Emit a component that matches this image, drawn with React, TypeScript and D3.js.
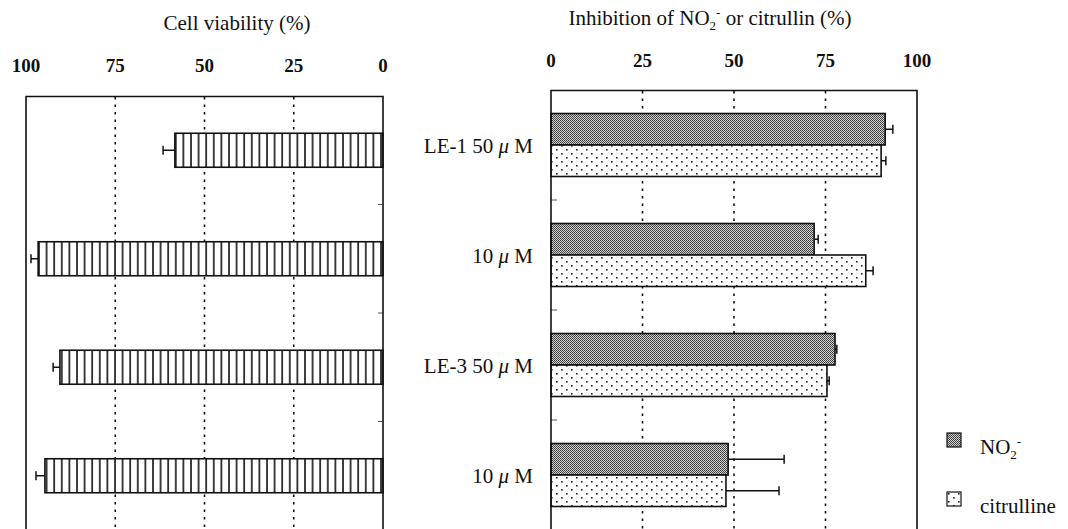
import React from 'react'
import * as d3 from 'd3'

const W = 1068
const H = 529
const FONT = 'Liberation Serif, serif'

// left panel: cell viability
const cellCats = ['LE-1 50', 'LE-1 10', 'LE-3 50', 'LE-3 10']
const cellValues = [58.3, 96.6, 90.5, 94.7]
const cellErrors = [3.3, 2.0, 1.9, 2.5]

// right panel: inhibition
const groupPrefix = ['LE-1 50 ', '10 ', 'LE-3 50 ', '10 ']
const seriesNames = ['no2', 'citrulline']
const no2Values = [91.3, 71.9, 77.6, 48.4]
const no2Errors = [2.1, 1.1, 0.5, 15.3]
const citValues = [90.2, 86.0, 75.4, 47.8]
const citErrors = [1.3, 2.0, 0.6, 14.5]

const ticks = [0, 25, 50, 75, 100]

const ErrorBar = ({ x0, x1, y }: { x0: number; x1: number; y: number }) => (
    <g stroke="#111" strokeWidth={1.5}>
        <line x1={x0} x2={x1} y1={y} y2={y} />
        <line x1={x1} x2={x1} y1={y - 4.5} y2={y + 4.5} />
    </g>
)

const App = () => {
    // left scales
    const lx = d3.scaleLinear().domain([100, 0]).range([26, 383])
    const ly = d3.scaleBand().domain(cellCats).range([96, 530])
    const lBarH = 34

    // right scales
    const rx = d3.scaleLinear().domain([0, 100]).range([551, 917])
    const ry = d3.scaleBand().domain(d3.range(4).map(String)).range([90, 530])
    const sub = d3.scaleBand().domain(seriesNames).range([0, 63])
    const rOff = (ry.bandwidth() - 63) / 2

    const series = [
        { name: 'no2', values: no2Values, errors: no2Errors, fill: 'url(#dense)' },
        { name: 'citrulline', values: citValues, errors: citErrors, fill: 'url(#dots)' },
    ]

    return (
        <svg width={W} height={H} style={{ position: 'absolute', left: 0, top: 0, background: '#fff' }}
            fontFamily={FONT} fill="#111">
            <defs>
                <pattern id="stripes" width={7.6} height={10} patternUnits="userSpaceOnUse">
                    <rect width={7.6} height={10} fill="#fff" />
                    <line x1={1} x2={1} y1={0} y2={10} stroke="#111" strokeWidth={1.6} />
                </pattern>
                <pattern id="dense" width={2} height={2} patternUnits="userSpaceOnUse">
                    <rect width={2} height={2} fill="#d2d2d2" />
                    <rect width={1} height={1} fill="#3a3a3a" />
                    <rect x={1} y={1} width={1} height={1} fill="#4a4a4a" />
                </pattern>
                <pattern id="dots" width={10} height={8} patternUnits="userSpaceOnUse">
                    <rect width={10} height={8} fill="#fff" />
                    <rect x={1} y={1} width={1.6} height={1.6} fill="#222" />
                    <rect x={6} y={5} width={1.6} height={1.6} fill="#222" />
                </pattern>
            </defs>

            {/* left panel */}
            <text x={237} y={30} fontSize={21} textAnchor="middle">Cell viability (%)</text>
            {ticks.map(t => (
                <text key={t} x={lx(t)} y={72} fontSize={19} fontWeight="bold" textAnchor="middle">{t}</text>
            ))}
            {[25, 50, 75].map(t => (
                <line key={t} x1={lx(t)} x2={lx(t)} y1={97} y2={H} stroke="#111" strokeWidth={1.6}
                    strokeDasharray="2.5 5" />
            ))}
            {cellCats.map((c, i) => {
                const y = ly(c)! + (ly.bandwidth() - lBarH) / 2
                const x0 = lx(cellValues[i])
                return (
                    <g key={c}>
                        <rect x={x0} y={y} width={lx(0) - x0} height={lBarH} fill="url(#stripes)"
                            stroke="#111" strokeWidth={1.6} />
                        <ErrorBar x0={x0} x1={lx(cellValues[i] + cellErrors[i])} y={y + lBarH / 2} />
                    </g>
                )
            })}
            {cellCats.slice(1).map(c => (
                <line key={c} x1={383} x2={378} y1={ly(c)} y2={ly(c)} stroke="#555" strokeWidth={1} />
            ))}
            <path d={`M26,${H + 5}V96.5H383V${H + 5}`} fill="none" stroke="#111" strokeWidth={1.6} />

            {/* right panel */}
            <text x={710} y={25} fontSize={21} textAnchor="middle">
                Inhibition of NO<tspan fontSize={13} dy={5}>2</tspan>
                <tspan fontSize={13} dy={-13}>-</tspan>
                <tspan dy={8}> or citrullin (%)</tspan>
            </text>
            {ticks.map(t => (
                <text key={t} x={rx(t)} y={67} fontSize={19} fontWeight="bold" textAnchor="middle">{t}</text>
            ))}
            {[25, 50, 75].map(t => (
                <line key={t} x1={rx(t)} x2={rx(t)} y1={91} y2={H} stroke="#111" strokeWidth={1.6}
                    strokeDasharray="2.5 5" />
            ))}
            {groupPrefix.map((g, i) => {
                const gy = ry(String(i))!
                return (
                    <g key={i}>
                        <text x={533} y={gy + ry.bandwidth() / 2 + 8} fontSize={21} textAnchor="end">
                            {g}<tspan fontStyle="italic">μ</tspan> M
                        </text>
                        {series.map(s => {
                            const y = gy + rOff + sub(s.name)!
                            const bh = sub.bandwidth()
                            const x1 = rx(s.values[i])
                            return (
                                <g key={s.name}>
                                    <rect x={rx(0)} y={y} width={x1 - rx(0)} height={bh} fill={s.fill}
                                        stroke="#111" strokeWidth={1.6} />
                                    <ErrorBar x0={x1} x1={rx(s.values[i] + s.errors[i])} y={y + bh / 2} />
                                </g>
                            )
                        })}
                    </g>
                )
            })}
            {d3.range(1, 4).map(i => (
                <line key={i} x1={551} x2={557} y1={ry(String(i))} y2={ry(String(i))} stroke="#555" strokeWidth={1} />
            ))}
            <path d={`M551,${H + 5}V90.5H917V${H + 5}`} fill="none" stroke="#111" strokeWidth={1.6} />

            {/* legend */}
            {series.map((s, i) => (
                <g key={s.name} transform={`translate(947,${433 + i * 59})`}>
                    <rect width={14} height={14} fill={s.fill} stroke="#111" strokeWidth={1.2} />
                    <text x={33} y={21} fontSize={21}>
                        {s.name === 'no2'
                            ? <>NO<tspan fontSize={13} dy={5}>2</tspan><tspan fontSize={13} dy={-13}>-</tspan></>
                            : 'citrulline'}
                    </text>
                </g>
            ))}
        </svg>
    )
}

export default App
